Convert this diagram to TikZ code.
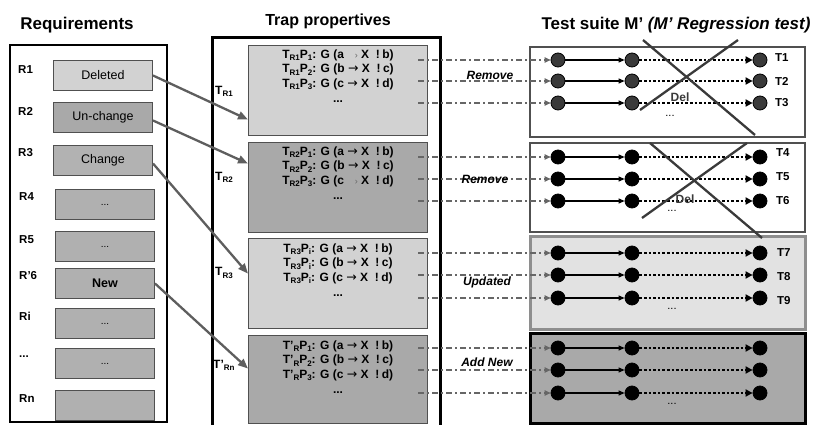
\documentclass[tikz,border=0pt]{standalone}
\usepackage{fontspec}
\setmainfont{Liberation Sans}
\newfontfamily\symfont{DejaVu Sans}
\usetikzlibrary{arrows.meta}

\definecolor{edgegray}{HTML}{505050}
\definecolor{lightfill}{HTML}{D2D2D2}
\definecolor{midfill}{HTML}{A9A9A9}
\definecolor{reqfill}{HTML}{B0B0B0}
\definecolor{linkgray}{HTML}{5E5E5E}
\definecolor{dashgray}{HTML}{666666}
\definecolor{updfill}{HTML}{E2E2E2}
\definecolor{updedge}{HTML}{8E8E8E}
\definecolor{dotdark}{HTML}{3A3A3A}

% subscript and arrow helpers for the trap property lines
\newcommand\lo[1]{\raisebox{-0.35ex}{\fontsize{8}{8}\selectfont #1}}
\newcommand\ar{{\symfont\mdseries\fontsize{12.5}{12}\selectfont →}}
\newcommand\miss{\makebox[10.5pt][r]{\color{dashgray}\mdseries\fontsize{9}{9}\selectfont ›}}

\tikzset{
  title/.style={font=\bfseries\fontsize{17}{20}\selectfont, inner sep=0pt},
  rlabel/.style={font=\bfseries\fontsize{11.5}{13}\selectfont, anchor=west, inner sep=0pt},
  reqbox/.style={draw=edgegray, line width=1pt, minimum width=99pt, minimum height=30pt,
                 inner sep=0pt, anchor=north west, font=\fontsize{12.5}{14}\selectfont},
  trapbox/.style={draw=edgegray, line width=1.2pt, minimum width=179pt, minimum height=90pt,
                  inner sep=0pt, anchor=north west},
  traptext/.style={font=\bfseries\fontsize{12}{14.5}\selectfont, align=center, anchor=north, inner sep=0pt},
  tlabel/.style={font=\bfseries\fontsize{12}{14}\selectfont, anchor=west, inner sep=0pt},
  link/.style={draw=linkgray, line width=2.3pt, -{Triangle[length=10pt,width=8pt]}},
  feed/.style={draw=dashgray, line width=1.1pt, dash pattern=on 6pt off 3pt on 2pt off 3pt,
               -{Triangle[length=6pt,width=5.5pt]}},
  stepA/.style={draw=black, line width=1.1pt, -{Triangle[length=6pt,width=5pt]}},
  stepB/.style={draw=black, line width=2.6pt, dash pattern=on 2.6pt off 2pt,
                -{Triangle[length=7pt,width=7pt]}},
  state/.style={circle, draw=black, line width=0.8pt, minimum size=14pt, inner sep=0pt},
  suite/.style={draw=edgegray, line width=1.5pt, fill=white},
  cross/.style={draw=dotdark, line width=2.3pt},
  action/.style={font=\bfseries\itshape\fontsize{12}{14}\selectfont, inner sep=0pt},
  testid/.style={font=\bfseries\fontsize{11.5}{13}\selectfont, anchor=west, inner sep=0pt},
  more/.style={font=\fontsize{11}{12}\selectfont, inner sep=0pt}
}

\begin{document}
\begin{tikzpicture}[x=1pt,y=-1pt]
\useasboundingbox (0,0) rectangle (815,425);

% ---------- titles ----------
\node[title] (h1) at (77,25) {Requirements};
\node[title, font=\bfseries\fontsize{16}{19}\selectfont] (h2) at (328,21) {Trap propertives};
\node[title] (h3) at (676,25) {Test suite M’ \textit{(M’ Regression test)}};

% ---------- requirements column ----------
\draw[line width=1.8pt] (10,45) rectangle (167,422);

\node[rlabel] (l1) at (18,70)  {R1};
\node[rlabel] (l2) at (18,111) {R2};
\node[rlabel] (l3) at (18,153) {R3};
\node[rlabel] (l4) at (19,197) {R4};
\node[rlabel] (l5) at (19,240) {R5};
\node[rlabel] (l6) at (19,276) {R’6};
\node[rlabel] (l7) at (19,316) {Ri};
\node[rlabel] (l8) at (19,357) {...};
\node[rlabel] (l9) at (19,399) {Rn};

\node[reqbox, fill=lightfill] (r1) at (53,60)  {Deleted};
\node[reqbox, fill=midfill]   (r2) at (53,102) {Un-change};
\node[reqbox, fill=midfill!90!white] (r3) at (53,145) {Change};
\node[reqbox, fill=reqfill, font=\fontsize{10}{12}\selectfont] (r4) at (55,189) {...};
\node[reqbox, fill=reqfill, font=\fontsize{10}{12}\selectfont] (r5) at (55,231) {...};
\node[reqbox, fill=reqfill, font=\bfseries\fontsize{12.5}{14}\selectfont] (r6) at (55,268) {New};
\node[reqbox, fill=reqfill, font=\fontsize{10}{12}\selectfont] (r7) at (55,308) {...};
\node[reqbox, fill=reqfill, font=\fontsize{10}{12}\selectfont] (r8) at (55,348) {...};
\node[reqbox, fill=reqfill] (r9) at (55,390) {};

% ---------- trap properties column ----------
\draw[line width=3pt] (212,427) -- (212,38) -- (440,38) -- (440,427);

\node[trapbox, fill=lightfill] (t1) at (248,45)  {};
\node[trapbox, fill=midfill]   (t2) at (248,142) {};
\node[trapbox, fill=lightfill] (t3) at (248,238) {};
\node[trapbox, fill=midfill, minimum height=88pt] (t4) at (248,335) {};

\node[traptext] (p1) at (338,49.5) {%
  T\lo{R1}P\lo{1}: G (a \miss\ X\ \ !\hspace{2.5pt}b)\\
  T\lo{R1}P\lo{2}: G (b \ar\ X\ \ !\hspace{2.5pt}c)\\
  T\lo{R1}P\lo{3}: G (c \ar\ X\ \ !\hspace{2.5pt}d)\\[1pt]
  ...};
\node[traptext] (p2) at (338,146.5) {%
  T\lo{R2}P\lo{1}: G (a \ar\ X\ \ !\hspace{2.5pt}b)\\
  T\lo{R2}P\lo{2}: G (b \ar\ X\ \ !\hspace{2.5pt}c)\\
  T\lo{R2}P\lo{3}: G (c \miss\ X\ \ !\hspace{2.5pt}d)\\[1pt]
  ...};
\node[traptext] (p3) at (338,243.5) {%
  T\lo{R3}P\lo{i}: G (a \ar\ X\ \ !\hspace{2.5pt}b)\\
  T\lo{R3}P\lo{i}: G (b \ar\ X\ \ !\hspace{2.5pt}c)\\
  T\lo{R3}P\lo{i}: G (c \ar\ X\ \ !\hspace{2.5pt}d)\\[1pt]
  ...};
\node[traptext] (p4) at (338,340.5) {%
  T’\lo{R}P\lo{1}: G (a \ar\ X\ \ !\hspace{2.5pt}b)\\
  T’\lo{R}P\lo{2}: G (b \ar\ X\ \ !\hspace{2.5pt}c)\\
  T’\lo{R}P\lo{3}: G (c \ar\ X\ \ !\hspace{2.5pt}d)\\[1pt]
  ...};

\node[tlabel] (g1) at (215,91)  {T\lo{R1}};
\node[tlabel] (g2) at (215,177) {T\lo{R2}};
\node[tlabel] (g3) at (215,273) {T\lo{R3}};
\node[tlabel] (g4) at (213,365) {T’\lo{Rn}};

% requirement -> trap property links
\draw[link] (r1.east) -- ([yshift=-29pt]t1.west);
\draw[link] ([yshift=-3pt]r2.east) -- ([yshift=24pt]t2.west);
\draw[link] ([yshift=-3pt]r3.east) -- ([yshift=10pt]t3.west);
\draw[link] (r6.east) -- ([yshift=11pt]t4.west);

% ---------- test suite column ----------
\draw[suite] (530,47) rectangle (805,137);
\draw[suite] (530,143) rectangle (805,232);
\draw[draw=updedge, line width=3pt, fill=updfill] (530,237) rectangle (805,329);
\draw[draw=black, line width=3pt, fill=midfill] (530,333) rectangle (805,423);

\foreach \g/\ys/\col in {a/{60,81,103}/dotdark, b/{157,179,201}/black,
                         c/{253,275,298}/black, d/{348,370,393}/black}{
  \foreach \y [count=\i] in \ys {
    \coordinate (s\g\i) at (418,\y);
    \node[state, fill=\col] (\g\i-1) at (558,\y) {};
    \node[state, fill=\col] (\g\i-2) at (632,\y) {};
    \node[state, fill=\col] (\g\i-3) at (760,\y) {};
    \draw[feed]  (s\g\i) -- (\g\i-1);
    \draw[stepA] (\g\i-1) -- (\g\i-2);
    \draw[stepB] (\g\i-2) -- (\g\i-3);
  }
}

\node[testid] (id1) at (775,58)  {T1};
\node[testid] (id2) at (775,81)  {T2};
\node[testid] (id3) at (775,103) {T3};
\node[testid] (id4) at (776,153) {T4};
\node[testid] (id5) at (776,177) {T5};
\node[testid] (id6) at (776,201) {T6};
\node[testid] (id7) at (777,253) {T7};
\node[testid] (id8) at (777,277) {T8};
\node[testid] (id9) at (777,301) {T9};

\node[more] (m1) at (670,116) {...};
\node[more] (m2) at (672,211) {...};
\node[more] (m3) at (672,309) {...};
\node[more] (m4) at (672,404) {...};

\node[font=\bfseries\fontsize{12}{14}\selectfont, text=dotdark, inner sep=0pt] (del1) at (680,97)  {Del};
\node[font=\bfseries\fontsize{12}{14}\selectfont, text=dotdark, inner sep=0pt] (del2) at (685,199) {Del};

% struck-out suites
\draw[cross] (643,40) -- (755,135);
\draw[cross] (738,40) -- (640,110);
\draw[cross] (650,143) -- (762,238);
\draw[cross] (747,143) -- (642,218);

% change actions
\node[action] (act1) at (490,75)  {Remove};
\node[action] (act2) at (485,179) {Remove};
\node[action] (act3) at (487,282) {Updated};
\node[action] (act4) at (487,362) {Add New};
\end{tikzpicture}
\end{document}
